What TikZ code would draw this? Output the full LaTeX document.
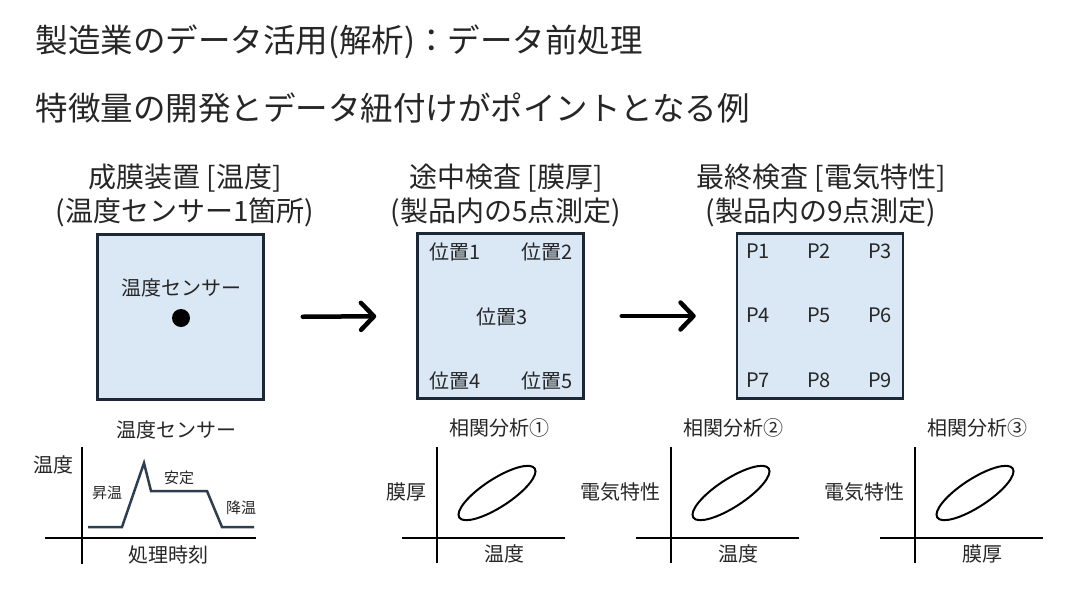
\documentclass[tikz,border=0pt]{standalone}
\usepackage{fontspec}
\setmainfont{Noto Sans CJK JP}
\usetikzlibrary{arrows.meta}
\definecolor{waferfill}{RGB}{218,232,245}
\definecolor{waferline}{RGB}{28,40,54}
\definecolor{curvecol}{RGB}{45,62,78}
\definecolor{txt}{RGB}{38,38,38}
\tikzset{
  wafer/.style={draw=waferline, fill=waferfill, line width=2.5pt, minimum width=166pt, minimum height=165pt, inner sep=0pt},
  head/.style={align=center, font=\fontsize{28}{34}\selectfont, text=txt},
  lbl/.style={font=\fontsize{20}{23}\selectfont, text=txt},
  small/.style={font=\fontsize{15}{18}\selectfont, text=txt},
  axis/.style={line width=2.5pt, black},
  flow/.style={line width=4.5pt, line cap=round, -{Straight Barb[length=13pt, width=27pt, round]}}
}
\begin{document}
\begin{tikzpicture}[x=1pt, y=-1pt]
\useasboundingbox[fill=white] (0,0) rectangle (1074,595);
% titles
\node[anchor=west, font=\fontsize{32.5}{38}\selectfont, text=txt] (title) at (32,42) {製造業のデータ活用(解析)：データ前処理};
\node[anchor=west, font=\fontsize{32.5}{38}\selectfont, text=txt] (subtitle) at (32,108) {特徴量の開発とデータ紐付けがポイントとなる例};
% process steps
\node[head] (head1) at (185,195) {成膜装置 [温度]\\(温度センサー1箇所)};
\node[head] (head2) at (506,195) {途中検査 [膜厚]\\(製品内の5点測定)};
\node[head] (head3) at (821,195) {最終検査 [電気特性]\\(製品内の9点測定)};
\node[wafer] (box1) at (180.5,317) {};
\node[wafer] (box2) at (500.5,316) {};
\node[wafer] (box3) at (820,316) {};
\node[lbl] (sensorlbl) at (181,288) {温度センサー};
\node[circle, fill=black, minimum size=18pt, inner sep=0pt] (sensor) at (181,318) {};
\node[lbl] (pos1) at (455,252) {位置1};
\node[lbl] (pos2) at (547,252) {位置2};
\node[lbl] (pos3) at (502,317) {位置3};
\node[lbl] (pos4) at (455,381) {位置4};
\node[lbl] (pos5) at (547,381) {位置5};
\foreach \n/\px/\py in {1/758/251, 2/819/251, 3/880/251, 4/758/315, 5/819/315, 6/880/315, 7/758/380, 8/819/380, 9/880/380}
  \node[lbl] (p\n) at (\px,\py) {P\n};
\draw[flow, shorten <=38pt, shorten >=40pt] (box1.east) -- (box2.west);
\draw[flow, shorten <=37pt, shorten >=40pt] (box2.east) -- (box3.west);
% temperature profile
\node[lbl] (profile) at (176,430) {温度センサー};
\draw[axis] (82,447) -- (82,564);
\draw[axis] (45,538) -- (256,538);
\draw[curvecol, line width=2.5pt] (88,527) -- (122,527) -- (144,463) -- (151,491) -- (207,491) -- (222,527) -- (254,527);
\node[lbl] (templbl) at (54,465) {温度};
\node[small] (rise) at (107,493) {昇温};
\node[small] (stable) at (179,478) {安定};
\node[small] (fall) at (241,508) {降温};
\node[lbl] (timelbl) at (168,555) {処理時刻};
% correlation plots
\foreach \i/\vx/\ttl/\yl/\xl in {1/437/相関分析①/膜厚/温度, 2/671/相関分析②/電気特性/温度, 3/915/相関分析③/電気特性/膜厚} {
  \node[lbl] (corr\i) at (\vx+62,428) {\ttl};
  \draw[axis] (\vx,447) -- (\vx,563);
  \draw[axis] (\vx-35,538) -- (\vx+128,538);
  \draw[line width=2pt, shift={(\vx+60,493)}, rotate=33] (0,0) ellipse (45pt and 14pt);
  \node[lbl, anchor=east] (ylbl\i) at (\vx-7,492) {\yl};
  \node[lbl] (xlbl\i) at (\vx+67,554) {\xl};
}
\end{tikzpicture}
\end{document}
